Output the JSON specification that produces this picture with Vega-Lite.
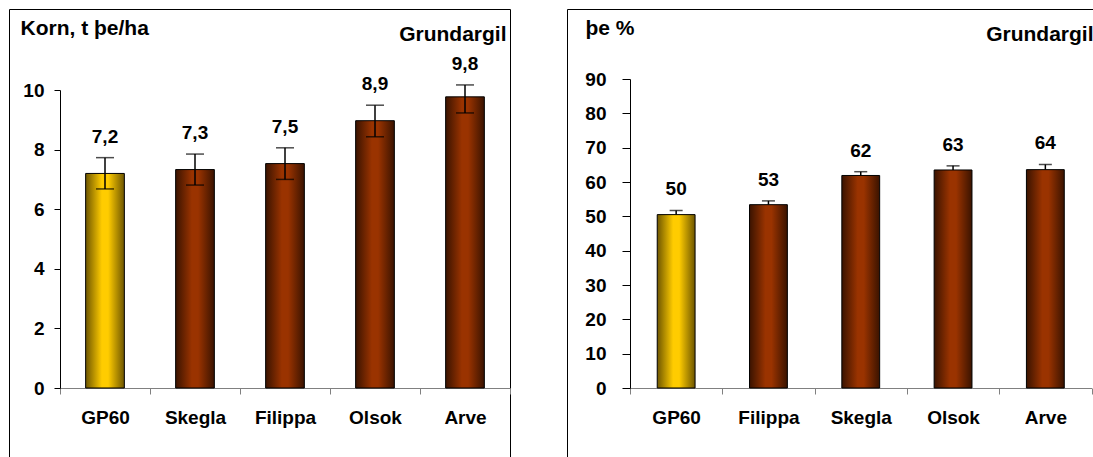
{
  "$schema": "https://vega.github.io/schema/vega-lite/v6.json",
  "padding": {"left": 8, "top": 8, "right": 0, "bottom": 0},
  "background": "white",
  "spacing": 55,
  "config": {
    "view": {"stroke": "#000000", "strokeWidth": 1},
    "font": "Liberation Sans",
    "axis": {"grid": false, "labelFont": "Liberation Sans", "labelFontWeight": "bold", "labelFontSize": 19, "labelColor": "#000000", "titleFont": "Liberation Sans", "titleFontWeight": "bold", "titleFontSize": 21, "titleColor": "#000000"}
  },
  "datasets": {
    "korn": [
      {"variety": "GP60", "value": 7.2, "lo": 6.68, "hi": 7.73, "label": "7,2"},
      {"variety": "Skegla", "value": 7.33, "lo": 6.81, "hi": 7.85, "label": "7,3"},
      {"variety": "Filippa", "value": 7.53, "lo": 7.0, "hi": 8.06, "label": "7,5"},
      {"variety": "Olsok", "value": 8.97, "lo": 8.43, "hi": 9.49, "label": "8,9"},
      {"variety": "Arve", "value": 9.77, "lo": 9.23, "hi": 10.17, "label": "9,8"}
    ],
    "ts": [
      {"variety": "GP60", "value": 50.5, "hi": 51.7, "label": "50"},
      {"variety": "Filippa", "value": 53.4, "hi": 54.5, "label": "53"},
      {"variety": "Skegla", "value": 61.9, "hi": 63.0, "label": "62"},
      {"variety": "Olsok", "value": 63.5, "hi": 64.7, "label": "63"},
      {"variety": "Arve", "value": 63.6, "hi": 65.1, "label": "64"}
    ]
  },
  "hconcat": [
    {
      "width": 501,
      "height": 449,
      "data": {"name": "korn"},
      "encoding": {
        "x": {
          "field": "variety", "type": "nominal", "sort": null,
          "scale": {"range": [51, 501], "paddingInner": 0, "paddingOuter": 0},
          "axis": {"title": "Grundargil", "titleAngle": 0, "titleAlign": "right", "titleBaseline": "alphabetic", "titleX": 497, "titleY": -347.5, "orient": "bottom", "offset": -70, "domainColor": "#808080", "tickColor": "#808080", "tickSize": 6, "tickBand": "extent", "labelPadding": 14, "labelAngle": 0}
        }
      },
      "layer": [
        {
          "mark": {"type": "bar", "width": {"band": 0.43}, "stroke": "#000000", "strokeWidth": 1},
          "encoding": {
            "y": {
              "field": "value", "type": "quantitative", "title": "Korn, t þe/ha",
              "scale": {"domain": [0, 10], "range": [379, 81], "nice": false},
              "axis": {"offset": -51, "values": [0, 2, 4, 6, 8, 10], "tickSize": 6, "labelPadding": 10, "domainColor": "#000000", "tickColor": "#000000", "titleAngle": 0, "titleAlign": "left", "titleBaseline": "alphabetic", "titleX": -40, "titleY": 25}
            },
            "fill": {
              "condition": {"test": "datum.variety === 'GP60'", "value": {"gradient": "linear", "x1": 0, "y1": 0, "x2": 1, "y2": 0, "stops": [{"offset": 0, "color": "#6e5600"}, {"offset": 0.42, "color": "#ffcc00"}, {"offset": 0.58, "color": "#ffcc00"}, {"offset": 1, "color": "#6e5600"}]}},
              "value": {"gradient": "linear", "x1": 0, "y1": 0, "x2": 1, "y2": 0, "stops": [{"offset": 0, "color": "#3a1300"}, {"offset": 0.42, "color": "#9a3300"}, {"offset": 0.58, "color": "#9a3300"}, {"offset": 1, "color": "#3a1300"}]}
            }
          }
        },
        {
          "mark": {"type": "rule", "color": "#000000", "strokeWidth": 1.5},
          "encoding": {
            "y": {"field": "lo", "type": "quantitative", "title": "Korn, t þe/ha"},
            "y2": {"field": "hi"}
          }
        },
        {
          "mark": {"type": "tick", "color": "#000000", "size": 18, "thickness": 1.5},
          "encoding": {"y": {"field": "hi", "type": "quantitative", "title": "Korn, t þe/ha"}}
        },
        {
          "mark": {"type": "tick", "color": "#000000", "size": 18, "thickness": 1.5},
          "encoding": {"y": {"field": "lo", "type": "quantitative", "title": "Korn, t þe/ha"}}
        },
        {
          "mark": {"type": "text", "dy": -15, "baseline": "alphabetic", "fontSize": 19, "fontWeight": "bold", "font": "Liberation Sans", "color": "#000000"},
          "encoding": {
            "y": {"field": "hi", "type": "quantitative", "title": "Korn, t þe/ha"},
            "text": {"field": "label"}
          }
        }
      ]
    },
    {
      "width": 529,
      "height": 449,
      "data": {"name": "ts"},
      "encoding": {
        "x": {
          "field": "variety", "type": "nominal", "sort": null,
          "scale": {"range": [63, 524.5], "paddingInner": 0, "paddingOuter": 0},
          "axis": {"title": "Grundargil", "titleAngle": 0, "titleAlign": "right", "titleBaseline": "alphabetic", "titleX": 526, "titleY": -347.5, "orient": "bottom", "offset": -70, "domainColor": "#808080", "tickColor": "#808080", "tickSize": 6, "tickBand": "extent", "labelPadding": 14, "labelAngle": 0}
        }
      },
      "layer": [
        {
          "mark": {"type": "bar", "width": {"band": 0.41}, "stroke": "#000000", "strokeWidth": 1},
          "encoding": {
            "y": {
              "field": "value", "type": "quantitative", "title": "þe %",
              "scale": {"domain": [0, 90], "range": [379, 70], "nice": false},
              "axis": {"offset": -63, "values": [0, 10, 20, 30, 40, 50, 60, 70, 80, 90], "tickSize": 8, "labelPadding": 16, "domainColor": "#000000", "tickColor": "#000000", "titleAngle": 0, "titleAlign": "left", "titleBaseline": "alphabetic", "titleX": -45, "titleY": 25}
            },
            "fill": {
              "condition": {"test": "datum.variety === 'GP60'", "value": {"gradient": "linear", "x1": 0, "y1": 0, "x2": 1, "y2": 0, "stops": [{"offset": 0, "color": "#6e5600"}, {"offset": 0.42, "color": "#ffcc00"}, {"offset": 0.58, "color": "#ffcc00"}, {"offset": 1, "color": "#6e5600"}]}},
              "value": {"gradient": "linear", "x1": 0, "y1": 0, "x2": 1, "y2": 0, "stops": [{"offset": 0, "color": "#3a1300"}, {"offset": 0.42, "color": "#9a3300"}, {"offset": 0.58, "color": "#9a3300"}, {"offset": 1, "color": "#3a1300"}]}
            }
          }
        },
        {
          "mark": {"type": "rule", "color": "#000000", "strokeWidth": 1.5},
          "encoding": {
            "y": {"field": "value", "type": "quantitative", "title": "þe %"},
            "y2": {"field": "hi"}
          }
        },
        {
          "mark": {"type": "tick", "color": "#000000", "size": 13, "thickness": 1.5},
          "encoding": {"y": {"field": "hi", "type": "quantitative", "title": "þe %"}}
        },
        {
          "mark": {"type": "text", "dy": -15, "baseline": "alphabetic", "fontSize": 19, "fontWeight": "bold", "font": "Liberation Sans", "color": "#000000"},
          "encoding": {
            "y": {"field": "hi", "type": "quantitative", "title": "þe %"},
            "text": {"field": "label"}
          }
        }
      ]
    }
  ]
}
